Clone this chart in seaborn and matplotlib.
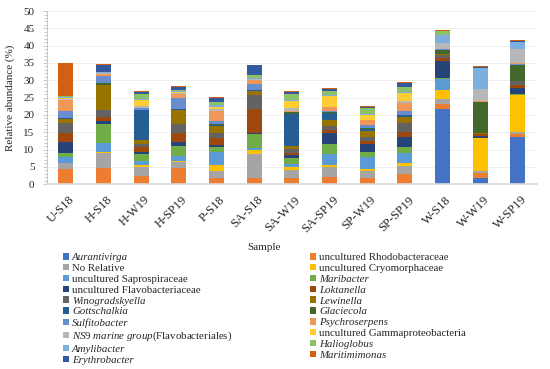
import pandas as pd
import matplotlib.pyplot as plt
from matplotlib.patches import Patch
from matplotlib.ticker import MultipleLocator
from matplotlib.transforms import ScaledTranslation
import seaborn as sns

samples = ['U-S18', 'H-S18', 'H-W19', 'H-SP19', 'P-S18', 'SA-S18', 'SA-W19',
           'SA-SP19', 'SP-W19', 'SP-SP19', 'W-S18', 'W-W19', 'W-SP19']

# relative abundance (%) per taxon, one value per sample (bottom of the stack first)
aurantivirga = [0, 0, 0, 0, 0, 0, 0, 0, 0, 0, 21.7, 1.9, 13.5]
rhodobacteraceae = [4.3, 4.7, 2.4, 4.7, 1.8, 1.9, 1.8, 2.0, 1.8, 2.9, 1.5, 1.2, 1.0]
no_relative = [1.8, 4.3, 2.6, 1.8, 2.1, 6.7, 2.4, 3.0, 2.0, 2.4, 1.4, 0.8, 0.7]
cryomorphaceae = [0.1, 0.3, 0.6, 0.3, 1.7, 1.3, 0.8, 0.5, 0.7, 0.9, 2.5, 9.3, 10.5]
saprospiraceae = [1.5, 2.6, 1.0, 1.2, 3.7, 0.5, 0.7, 3.2, 3.2, 2.9, 3.4, 0.1, 0.1]
maribacter = [1.4, 5.6, 2.1, 3.0, 1.4, 4.1, 1.9, 2.9, 1.6, 1.5, 0.1, 0.1, 0.1]
flavobacteriaceae = [3.1, 0.6, 0.7, 1.2, 0.5, 0.4, 0.7, 3.1, 2.2, 3.1, 5.0, 0.6, 1.9]
loktanella = [2.6, 1.3, 1.2, 2.5, 2.1, 6.8, 0.6, 0.8, 1.1, 1.3, 0.8, 0.4, 0.8]
winogradskyella = [3.0, 1.9, 1.1, 2.7, 1.5, 4.1, 1.2, 1.2, 1.1, 2.8, 1.0, 0.2, 1.1]
lewinella = [1.0, 7.2, 1.0, 4.0, 2.1, 1.2, 1.0, 1.9, 1.7, 1.7, 0.1, 0.1, 0.1]
gottschalkia = [0.2, 0.1, 8.6, 0.3, 0.3, 0.2, 9.2, 1.9, 0.6, 0.5, 0.1, 0.1, 0.1]
glaciecola = [0.1, 0.7, 0.1, 0.1, 0.1, 0.1, 0.4, 0.2, 0.1, 0.1, 1.2, 8.9, 4.5]
sulfitobacter = [1.9, 1.9, 0.5, 3.0, 1.0, 1.7, 0.2, 0.3, 1.0, 0.9, 0.1, 0.1, 0.4]
psychroserpens = [3.3, 0.5, 0.2, 1.2, 2.8, 1.0, 0.2, 1.2, 1.3, 2.5, 0.1, 0.1, 0.1]
ns9 = [0.4, 0.3, 0.4, 0.3, 0.6, 0.3, 0.9, 0.2, 0.2, 0.5, 1.7, 3.5, 4.0]
gammaproteobacteria = [0.2, 0.2, 1.9, 0.3, 0.7, 0.2, 2.1, 3.0, 1.4, 2.4, 0.1, 0.1, 0.1]
amylibacter = [0.3, 0.2, 0.2, 0.2, 0.4, 0.3, 0.2, 0.3, 0.2, 0.2, 2.3, 6.0, 2.1]
halioglobus = [0.2, 0.1, 1.4, 0.3, 0.8, 0.7, 1.7, 1.2, 1.8, 1.4, 1.0, 0.1, 0.1]
erythrobacter = [0.2, 1.8, 0.5, 1.0, 1.4, 2.8, 0.5, 0.5, 0.3, 1.3, 0.1, 0.1, 0.1]
maritimimonas = [9.5, 0.3, 0.3, 0.3, 0.3, 0.1, 0.3, 0.3, 0.3, 0.3, 0.3, 0.4, 0.3]

taxa = ['Aurantivirga', 'uncultured Rhodobacteraceae', 'No Relative',
        'uncultured Cryomorphaceae', 'uncultured Saprospiraceae', 'Maribacter',
        'uncultured Flavobacteriaceae', 'Loktanella', 'Winogradskyella', 'Lewinella',
        'Gottschalkia', 'Glaciecola', 'Sulfitobacter', 'Psychroserpens',
        'NS9 marine group (Flavobacteriales)', 'uncultured Gammaproteobacteria',
        'Amylibacter', 'Halioglobus', 'Erythrobacter', 'Maritimimonas']
values = [aurantivirga, rhodobacteraceae, no_relative, cryomorphaceae, saprospiraceae,
          maribacter, flavobacteriaceae, loktanella, winogradskyella, lewinella,
          gottschalkia, glaciecola, sulfitobacter, psychroserpens, ns9,
          gammaproteobacteria, amylibacter, halioglobus, erythrobacter, maritimimonas]
colors = ['#4472C4', '#ED7D31', '#A5A5A5', '#FFC000', '#5B9BD5', '#70AD47',
          '#264478', '#9E480E', '#636363', '#997300', '#255E91', '#43682B',
          '#698ED0', '#F1975A', '#B7B7B7', '#FFCD33', '#7CAFDD', '#8CC168',
          '#335AA1', '#D26012']

rows = []
for name, vals in zip(taxa, values):
    for i, v in enumerate(vals):
        rows.append({'pos': i, 'Taxon': name, 'Abundance': v})
df = pd.DataFrame(rows)

sns.set_theme(style='white')
plt.rcParams['font.family'] = ['Liberation Serif', 'DejaVu Serif']
plt.rcParams['mathtext.fontset'] = 'custom'
plt.rcParams['mathtext.rm'] = 'Liberation Serif'
plt.rcParams['mathtext.it'] = 'Liberation Serif:italic'

fig = plt.figure(figsize=(5.5, 3.69), dpi=100)
ax = fig.add_axes([0.0855, 0.501, 0.8905, 0.469])

# seaborn stacks the last hue level at the bottom, so reverse the order
sns.histplot(data=df, x='pos', weights='Abundance', hue='Taxon',
             hue_order=taxa[::-1], palette=dict(zip(taxa, colors)),
             multiple='stack', discrete=True, shrink=0.4, linewidth=0,
             edgecolor='none', alpha=1, legend=False, ax=ax)

ax.set_xlim(-0.5, len(samples) - 0.5)
ax.set_ylim(0, 50)
ax.yaxis.set_major_locator(MultipleLocator(5))
ax.yaxis.set_minor_locator(MultipleLocator(1))
ax.yaxis.grid(True, color='#ececec', lw=0.6)
ax.set_axisbelow(True)
ax.set_xticks(range(len(samples)))
ax.tick_params(axis='x', length=0, labelsize=9, pad=10)
ax.tick_params(axis='y', which='both', left=True, direction='out', color='#bfbfbf',
               labelsize=8, width=0.6, pad=6)
ax.tick_params(axis='y', which='major', length=3)
ax.tick_params(axis='y', which='minor', length=2)
ax.set_xticklabels(samples, rotation=45, ha='right', va='center',
                   rotation_mode='anchor')
shift = ScaledTranslation(5 / 72, 0, fig.dpi_scale_trans)
for lab in ax.get_xticklabels():
    lab.set_transform(lab.get_transform() + shift)
for side in ['top', 'right']:
    ax.spines[side].set_visible(False)
ax.spines['left'].set_color('#bfbfbf')
ax.spines['left'].set_linewidth(0.6)
ax.spines['bottom'].set_color('#d9d9d9')
ax.spines['bottom'].set_linewidth(1.2)
ax.set_ylabel('Relative abundance (%)', fontsize=8, labelpad=6)
ax.set_xlabel('Sample', fontsize=8, va='center')
ax.xaxis.set_label_coords(0.443, -0.364)

italic = {'Aurantivirga', 'Maribacter', 'Loktanella', 'Winogradskyella', 'Lewinella',
          'Gottschalkia', 'Glaciecola', 'Sulfitobacter', 'Psychroserpens',
          'Amylibacter', 'Halioglobus', 'Erythrobacter', 'Maritimimonas'}
labels = []
for name in taxa:
    if name.startswith('NS9'):
        labels.append(r'$\mathit{NS9\ marine\ group}$(Flavobacteriales)')
    else:
        labels.append(name)
handles = [Patch(facecolor=c, edgecolor='none') for c in colors]

# legend is filled row by row in the reference
order = list(range(0, 20, 2)) + list(range(1, 20, 2))
leg = fig.legend([handles[i] for i in order], [labels[i] for i in order], ncol=2,
                 loc='upper left', bbox_to_anchor=(0.114, 0.314), frameon=False,
                 fontsize=7.8, handlelength=0.55, handleheight=0.55,
                 handletextpad=0.3, labelspacing=0.16, columnspacing=7.2,
                 borderaxespad=0, borderpad=0)
for i, t in zip(order, leg.get_texts()):
    if taxa[i] in italic:
        t.set_fontstyle('italic')

fig.savefig('out.png', dpi=100)
